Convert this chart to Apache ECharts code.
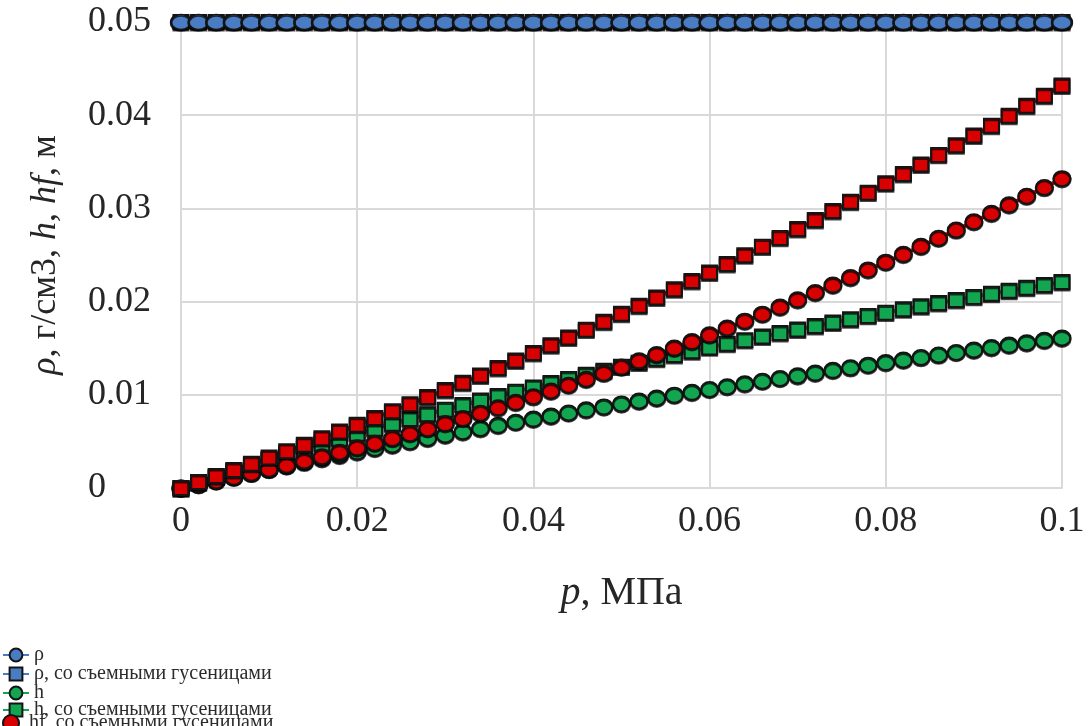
<!DOCTYPE html>
<html>
<head>
<meta charset="utf-8">
<script src="https://cdn.jsdelivr.net/npm/echarts@6/dist/echarts.min.js"></script>
<style>
  html, body { margin: 0; padding: 0; background: #ffffff; }
  #chart { width: 1092px; height: 726px; }
</style>
</head>
<body>
<div id="chart"></div>
<script>
// Pressure p, MPa
const pressure = [
  0, 0.002, 0.004, 0.006, 0.008, 0.010, 0.012, 0.014, 0.016, 0.018,
  0.020, 0.022, 0.024, 0.026, 0.028, 0.030, 0.032, 0.034, 0.036, 0.038,
  0.040, 0.042, 0.044, 0.046, 0.048, 0.050, 0.052, 0.054, 0.056, 0.058,
  0.060, 0.062, 0.064, 0.066, 0.068, 0.070, 0.072, 0.074, 0.076, 0.078,
  0.080, 0.082, 0.084, 0.086, 0.088, 0.090, 0.092, 0.094, 0.096, 0.098,
  0.100
];

// ρ, g/cm3
const rho = [
  0.05, 0.05, 0.05, 0.05, 0.05, 0.05, 0.05, 0.05, 0.05, 0.05,
  0.05, 0.05, 0.05, 0.05, 0.05, 0.05, 0.05, 0.05, 0.05, 0.05,
  0.05, 0.05, 0.05, 0.05, 0.05, 0.05, 0.05, 0.05, 0.05, 0.05,
  0.05, 0.05, 0.05, 0.05, 0.05, 0.05, 0.05, 0.05, 0.05, 0.05,
  0.05, 0.05, 0.05, 0.05, 0.05, 0.05, 0.05, 0.05, 0.05, 0.05,
  0.05
];

// ρ with removable tracks
const rhoTracks = [
  0.05, 0.05, 0.05, 0.05, 0.05, 0.05, 0.05, 0.05, 0.05, 0.05,
  0.05, 0.05, 0.05, 0.05, 0.05, 0.05, 0.05, 0.05, 0.05, 0.05,
  0.05, 0.05, 0.05, 0.05, 0.05, 0.05, 0.05, 0.05, 0.05, 0.05,
  0.05, 0.05, 0.05, 0.05, 0.05, 0.05, 0.05, 0.05, 0.05, 0.05,
  0.05, 0.05, 0.05, 0.05, 0.05, 0.05, 0.05, 0.05, 0.05, 0.05,
  0.05
];

// h, m
const h = [
  0, 0.00041, 0.00081, 0.00121, 0.00161, 0.00200, 0.00239, 0.00277, 0.00315, 0.00352,
  0.00389, 0.00426, 0.00462, 0.00498, 0.00534, 0.00569, 0.00604, 0.00639, 0.00673, 0.00707,
  0.00740, 0.00773, 0.00806, 0.00839, 0.00871, 0.00903, 0.00934, 0.00966, 0.00997, 0.01027,
  0.01058, 0.01088, 0.01118, 0.01147, 0.01176, 0.01205, 0.01234, 0.01263, 0.01291, 0.01319,
  0.01346, 0.01374, 0.01401, 0.01428, 0.01455, 0.01481, 0.01508, 0.01534, 0.01559, 0.01585,
  0.01610
];

// h with removable tracks, m
const hTracks = [
  0, 0.00063, 0.00125, 0.00185, 0.00245, 0.00304, 0.00362, 0.00418, 0.00474, 0.00529,
  0.00583, 0.00636, 0.00689, 0.00740, 0.00791, 0.00841, 0.00890, 0.00939, 0.00987, 0.01034,
  0.01080, 0.01126, 0.01171, 0.01215, 0.01259, 0.01302, 0.01345, 0.01386, 0.01428, 0.01468,
  0.01509, 0.01548, 0.01587, 0.01626, 0.01664, 0.01701, 0.01738, 0.01775, 0.01811, 0.01847,
  0.01882, 0.01917, 0.01951, 0.01985, 0.02018, 0.02051, 0.02084, 0.02116, 0.02148, 0.02179,
  0.02210
];

// hf, m
const hf = [
  0, 0.00038, 0.00077, 0.00117, 0.00159, 0.00202, 0.00245, 0.00290, 0.00336, 0.00384,
  0.00432, 0.00482, 0.00532, 0.00584, 0.00637, 0.00692, 0.00747, 0.00803, 0.00861, 0.00920,
  0.00980, 0.01041, 0.01104, 0.01167, 0.01232, 0.01298, 0.01365, 0.01433, 0.01502, 0.01572,
  0.01644, 0.01717, 0.01791, 0.01866, 0.01942, 0.02020, 0.02098, 0.02178, 0.02259, 0.02341,
  0.02424, 0.02508, 0.02594, 0.02681, 0.02769, 0.02858, 0.02948, 0.03039, 0.03132, 0.03225,
  0.03320
];

// hf with removable tracks, m
const hfTracks = [
  0, 0.00064, 0.00128, 0.00194, 0.00260, 0.00328, 0.00396, 0.00465, 0.00535, 0.00606,
  0.00678, 0.00751, 0.00825, 0.00900, 0.00976, 0.01052, 0.01130, 0.01208, 0.01288, 0.01368,
  0.01449, 0.01532, 0.01615, 0.01699, 0.01784, 0.01870, 0.01956, 0.02044, 0.02133, 0.02222,
  0.02313, 0.02404, 0.02497, 0.02590, 0.02684, 0.02779, 0.02876, 0.02973, 0.03071, 0.03169,
  0.03269, 0.03370, 0.03472, 0.03574, 0.03678, 0.03782, 0.03887, 0.03994, 0.04101, 0.04209,
  0.04318
];

// Tick labels
const xTickLabels = ['0', '0.02', '0.04', '0.06', '0.08', '0.1'];
const yTickLabels = ['0', '0.01', '0.02', '0.03', '0.04', '0.05'];

const names = [
  'ρ',
  'ρ, со съемными гусеницами',
  'h',
  'h, со съемными гусеницами',
  'hf',
  'hf, со съемными гусеницами'
];

const BLUE = '#4a7cc3';
const GREEN = '#12a650';
const RED = '#d80000';
const SERIF = '"Liberation Serif", "Times New Roman", serif';
const TEXT = '#262626';

function pairs(values) {
  return pressure.map((p, i) => [p, values[i]]);
}

function makeSeries(name, values, color, symbol, size) {
  return {
    name: name,
    type: 'line',
    data: pairs(values),
    symbol: symbol,
    symbolSize: size,
    showSymbol: true,
    clip: false,
    lineStyle: { color: color, width: 4 },
    itemStyle: {
      color: color,
      borderColor: '#141414',
      borderWidth: 2,
      shadowColor: 'rgba(0,0,0,0.7)',
      shadowOffsetY: 1.5,
      shadowBlur: 0
    },
    emphasis: { disabled: true },
    animation: false
  };
}

// one legend block per row, stacked down the lower-left corner
function legendRow(item, top) {
  return {
    orient: 'vertical',
    left: 2,
    top: top,
    padding: 0,
    itemGap: 0,
    itemWidth: 26,
    itemHeight: 16,
    data: [item],
    textStyle: { fontFamily: SERIF, fontSize: 20, color: '#2b2b2b' }
  };
}

const chart = echarts.init(document.getElementById('chart'));

chart.setOption({
  backgroundColor: '#ffffff',
  animation: false,
  grid: { left: 181, right: 30, top: 22, bottom: 238, containLabel: false },
  legend: [
    legendRow(names[0], 645),
    legendRow(names[1], 664),
    legendRow(names[2], 683),
    legendRow(names[3], 700),
    legendRow({ name: names[5], icon: 'circle' }, 713)
  ],
  xAxis: {
    type: 'value',
    min: 0,
    max: 0.1,
    interval: 0.02,
    name: '{i|p}, МПа',
    nameLocation: 'middle',
    nameGap: 85,
    nameTextStyle: {
      fontFamily: SERIF,
      fontSize: 40,
      color: TEXT,
      rich: { i: { fontFamily: SERIF, fontStyle: 'italic', fontSize: 40, color: TEXT } }
    },
    axisLine: { show: true, lineStyle: { color: '#d9d9d9', width: 2 } },
    axisTick: { show: false },
    axisLabel: {
      margin: 16,
      fontFamily: SERIF,
      fontSize: 36,
      color: TEXT,
      formatter: (v) => xTickLabels[Math.round(v / 0.02)]
    },
    splitLine: { show: true, lineStyle: { color: '#d9d9d9', width: 2 } }
  },
  yAxis: {
    type: 'value',
    min: 0,
    max: 0.05,
    interval: 0.01,
    name: '{i|ρ}, г/см3, {i|h}, {i|hf}, м',
    nameLocation: 'middle',
    nameGap: 117,
    nameTextStyle: {
      fontFamily: SERIF,
      fontSize: 36,
      color: TEXT,
      rich: { i: { fontFamily: SERIF, fontStyle: 'italic', fontSize: 36, color: TEXT } }
    },
    axisLine: { show: true, lineStyle: { color: '#d9d9d9', width: 2 } },
    axisTick: { show: false },
    axisLabel: {
      margin: 93,
      align: 'left',
      fontFamily: SERIF,
      fontSize: 36,
      color: TEXT,
      formatter: (v) => yTickLabels[Math.round(v / 0.01)]
    },
    splitLine: { show: true, lineStyle: { color: '#d9d9d9', width: 2 } }
  },
  series: [
    Object.assign(makeSeries(names[0], rho, BLUE, 'circle', [20, 15]), { z: 3 }),
    Object.assign(makeSeries(names[1], rhoTracks, BLUE, 'rect', [15, 14]), { z: 2 }),
    makeSeries(names[2], h, GREEN, 'circle', [17, 15]),
    makeSeries(names[3], hTracks, GREEN, 'rect', [15, 14]),
    makeSeries(names[4], hf, RED, 'circle', [17, 15]),
    makeSeries(names[5], hfTracks, RED, 'rect', [15, 14])
  ]
});
</script>
</body>
</html>
